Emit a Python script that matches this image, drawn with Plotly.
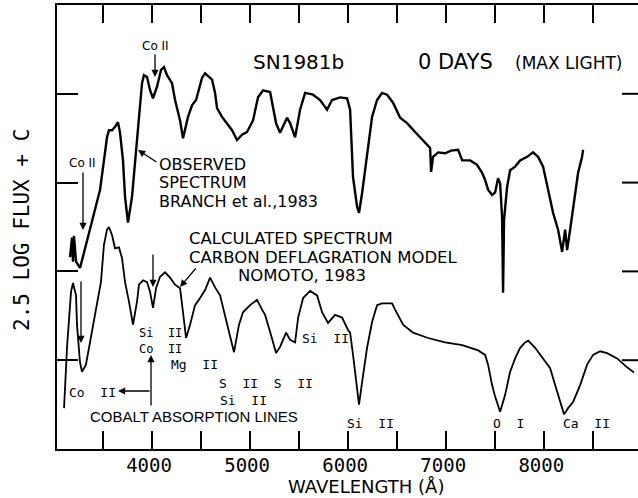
import plotly.graph_objects as go

# ---- data (wavelength in Angstrom, 2.5 log flux + C in magnitudes) ----
obs_wl = [3164, 3184, 3194, 3204, 3225, 3266, 3306, 3337, 3368, 3419, 3470, 3510, 3541, 3561,
          3592, 3623, 3653, 3674, 3704, 3725, 3755, 3796, 3837, 3867, 3898, 3918, 3949, 3980,
          4010, 4051, 4092, 4122, 4153, 4204, 4235, 4286, 4316, 4367, 4408, 4449, 4510, 4541,
          4612, 4643, 4663, 4714, 4775, 4816, 4867, 4918, 4969, 5030, 5081, 5132, 5204, 5224,
          5265, 5306, 5377, 5408, 5459, 5510, 5561, 5642, 5714, 5785, 5836, 5918, 5989, 6020,
          6050, 6091, 6111, 6142, 6193, 6244, 6295, 6346, 6397, 6458, 6530, 6601, 6683, 6785,
          6836, 6846, 6866, 6917, 6989, 7050, 7122, 7163, 7244, 7315, 7366, 7397, 7427, 7468,
          7499, 7529, 7550, 7570, 7580, 7590, 7621, 7652, 7703, 7754, 7825, 7886, 7937, 7988,
          8039, 8090, 8141, 8182, 8213, 8233, 8264, 8315, 8345, 8386, 8396]
obs_flux = [2.16, 2.38, 2.11, 2.40, 2.11, 2.04, 2.21, 2.35, 2.47, 2.69, 2.92, 3.25, 3.51, 3.59,
            3.59, 3.63, 3.68, 3.56, 3.25, 2.84, 2.55, 2.84, 3.37, 3.74, 4.12, 4.21, 4.19, 4.04,
            3.95, 4.08, 4.27, 4.30, 4.21, 4.12, 3.93, 3.70, 3.50, 3.74, 3.87, 3.93, 4.18, 4.23,
            4.16, 4.01, 3.84, 3.74, 3.65, 3.59, 3.48, 3.54, 3.57, 3.70, 3.96, 4.04, 4.02, 3.90,
            3.67, 3.56, 3.73, 3.67, 3.51, 3.82, 4.01, 3.99, 3.93, 3.82, 3.93, 3.96, 3.95, 3.82,
            3.06, 2.73, 2.66, 2.88, 3.33, 3.74, 3.93, 4.01, 3.99, 3.90, 3.73, 3.67, 3.57, 3.45,
            3.39, 3.12, 3.29, 3.34, 3.33, 3.36, 3.37, 3.25, 3.25, 3.20, 3.11, 3.03, 2.92, 2.86,
            2.89, 3.05, 2.99, 2.61, 1.76, 2.58, 2.95, 3.14, 3.18, 3.25, 3.29, 3.34, 3.29, 3.18,
            2.92, 2.66, 2.47, 2.22, 2.47, 2.24, 2.47, 2.88, 3.11, 3.29, 3.37]

calc_wl = [3103, 3133, 3174, 3194, 3225, 3235, 3265, 3286, 3326, 3377, 3428, 3479, 3510, 3541,
           3561, 3592, 3623, 3663, 3694, 3725, 3765, 3806, 3847, 3867, 3908, 3949, 3980, 4010,
           4041, 4082, 4133, 4184, 4235, 4286, 4316, 4347, 4388, 4439, 4490, 4541, 4592, 4643,
           4694, 4745, 4796, 4836, 4887, 4928, 5000, 5071, 5122, 5153, 5204, 5265, 5306, 5367,
           5408, 5459, 5490, 5541, 5612, 5683, 5734, 5795, 5867, 5938, 5999, 6020, 6050, 6091,
           6111, 6142, 6193, 6244, 6295, 6346, 6448, 6479, 6560, 6662, 6815, 6989, 7163, 7326,
           7397, 7427, 7468, 7499, 7519, 7550, 7601, 7652, 7703, 7754, 7805, 7836, 7907, 7988,
           8060, 8111, 8162, 8202, 8243, 8294, 8366, 8437, 8498, 8570, 8641, 8743, 8845, 8916]
calc_flux = [0.46, 1.14, 1.77, 1.87, 1.73, 1.40, 0.98, 0.87, 0.95, 1.25, 1.54, 1.88, 2.30, 2.47,
             2.50, 2.41, 2.26, 2.27, 2.15, 1.88, 1.66, 1.40, 1.66, 1.85, 1.90, 1.88, 1.77, 1.59,
             1.81, 1.94, 1.99, 1.93, 1.85, 1.81, 1.54, 1.25, 1.40, 1.62, 1.70, 1.79, 1.93, 1.82,
             1.73, 1.51, 1.28, 1.09, 1.40, 1.54, 1.62, 1.68, 1.57, 1.51, 1.32, 1.08, 1.15, 1.31,
             1.23, 1.20, 1.48, 1.70, 1.78, 1.73, 1.54, 1.42, 1.51, 1.48, 1.34, 1.31, 1.06, 0.69,
             0.50, 0.75, 1.14, 1.43, 1.62, 1.64, 1.64, 1.57, 1.40, 1.31, 1.25, 1.20, 1.17, 1.11,
             1.06, 0.95, 0.72, 0.59, 0.52, 0.42, 0.61, 0.87, 1.02, 1.14, 1.20, 1.22, 1.14, 1.02,
             0.91, 0.72, 0.53, 0.39, 0.46, 0.53, 0.72, 0.95, 1.06, 1.10, 1.08, 1.02, 0.92, 0.86]

x_tickvals = [3500, 4000, 4500, 5000, 5500, 6000, 6500, 7000, 7500, 8000, 8500]
x_ticktext = ["", "4000", "", "5000", "", "6000", "", "7000", "", "8000", ""]
y_tickvals = [1, 2, 3, 4]

# ---- layout geometry (pixels) ----
W, H = 638, 498
L, R, T, B = 57, 0, 5, 49
PW, PH = W - L - R, H - T - B


def P(px, py):
    return (px - L) / PW, (H - B - py) / PH


fig = go.Figure()
fig.add_trace(go.Scatter(x=obs_wl, y=obs_flux, mode="lines",
                         line=dict(color="black", width=2.4), showlegend=False))
fig.add_trace(go.Scatter(x=calc_wl, y=calc_flux, mode="lines",
                         line=dict(color="black", width=1.8), showlegend=False))

ann = []


def text(t, px, py, size, family="DejaVu Sans", anchor="center", angle=0):
    x, y = P(px, py)
    ann.append(dict(text=t, x=x, y=y, xref="paper", yref="paper", showarrow=False,
                    xanchor=anchor, yanchor="middle", textangle=angle, borderpad=0,
                    font=dict(family=family, size=size, color="black")))


def arrow(hx, hy, tx, ty):
    x, y = P(hx, hy)
    ann.append(dict(text="", x=x, y=y, xref="paper", yref="paper", showarrow=True,
                    ax=tx - hx, ay=ty - hy, arrowhead=2, arrowsize=1.1, arrowwidth=1.3,
                    arrowcolor="black"))


mono = "DejaVu Sans Mono"
nb = "\u00a0"
text("SN1981b", 298, 62, 20)
text("0 DAYS", 455, 62, 21)
text("(MAX LIGHT)", 568, 63, 17)
text("Co II", 155, 46, 12)
text("Co II", 82, 163, 12)
text("OBSERVED", 158, 164, 16, anchor="left")
text("SPECTRUM", 158, 182.5, 16, anchor="left")
text("BRANCH et al.,1983", 158, 201, 16, anchor="left")
text("CALCULATED SPECTRUM", 188, 239, 16.5, anchor="left")
text("CARBON DEFLAGRATION MODEL", 188, 257, 16.5, anchor="left")
text("NOMOTO, 1983", 237, 275, 16.5, anchor="left")
text("Si" + nb * 2 + "II<br>Co" + nb * 2 + "II", 160, 341, 12, mono)
text("Mg" + nb * 2 + "II", 194, 365, 13, mono)
text("S" + nb * 2 + "II" + nb * 2 + "S" + nb * 2 + "II", 266, 383, 13, mono)
text("Si" + nb * 2 + "II", 243, 400, 13, mono)
text("Co" + nb * 2 + "II", 92, 392, 13, mono)
text("COBALT ABSORPTION LINES", 194, 416, 15, "Liberation Sans")
text("Si" + nb * 2 + "II", 325, 338, 13, mono)
text("Si" + nb * 2 + "II", 370, 423, 13, mono)
text("O" + nb * 2 + "I", 508, 423, 13, mono)
text("Ca" + nb * 2 + "II", 586, 423, 13, mono)
text("2.5 LOG FLUX + C", 22, 230, 21, mono, angle=-90)
text("WAVELENGTH (Å)", 366, 486.5, 18)

arrow(155, 77, 155, 53)
arrow(83, 230, 83, 171)
arrow(138, 150, 158, 163)
arrow(180, 287, 197, 267)
arrow(153, 287, 153, 253)
arrow(81, 343, 81, 280)
arrow(151, 355, 151, 407)
arrow(118, 391, 151, 391)

shapes = []
for v in y_tickvals:
    shapes.append(dict(type="line", xref="paper", yref="y", x0=1 - 16 / PW, x1=1,
                       y0=v, y1=v, line=dict(color="black", width=2)))

fig.update_layout(
    width=W, height=H,
    margin=dict(l=L, r=R, t=T, b=B, pad=0),
    paper_bgcolor="white", plot_bgcolor="white",
    annotations=ann, shapes=shapes,
    xaxis=dict(range=[3031, 8956], tickvals=x_tickvals, ticktext=x_ticktext,
               ticks="inside", ticklen=18, tickwidth=2, tickcolor="black",
               showline=True, linecolor="black", linewidth=2, mirror="ticks",
               showgrid=False, zeroline=False, ticklabelstandoff=-2, ticklabelshift=-3,
               tickfont=dict(family=mono, size=19, color="black")),
    yaxis=dict(range=[0, 5], tickvals=y_tickvals, showticklabels=False,
               ticks="inside", ticklen=21, tickwidth=2, tickcolor="black",
               showline=True, linecolor="black", linewidth=2,
               showgrid=False, zeroline=False),
)

fig.write_html("out.html")
